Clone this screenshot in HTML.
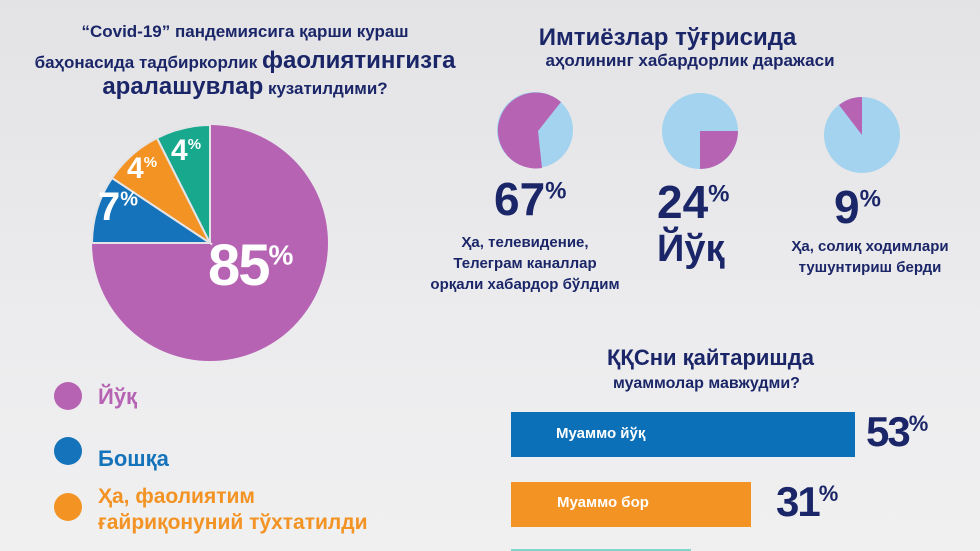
<!DOCTYPE html>
<html><head><meta charset="utf-8"><style>
body{margin:0;width:980px;height:551px;overflow:hidden;background:linear-gradient(#e3e3e5,#ececee 60%,#f0f0f1);font-family:"Liberation Sans","DejaVu Sans",sans-serif;color:#1b2668;position:relative}
.t{position:absolute;font-weight:bold;white-space:nowrap}
.c{text-align:center}
</style></head><body>
<div class="t c" style="left:0;width:490px;top:22px;font-size:17px">“Covid-19” пандемиясига қарши кураш</div>
<div class="t c" style="left:0;width:490px;top:47px;font-size:17px">баҳонасида тадбиркорлик <span style="font-size:24px">фаолиятингизга</span></div>
<div class="t c" style="left:0;width:490px;top:73px;font-size:17px"><span style="font-size:24px">аралашувлар</span> кузатилдими?</div>

<div class="t c" style="left:490px;width:355px;top:24px;font-size:24px">Имтиёзлар тўғрисида</div>
<div class="t c" style="left:490px;width:400px;top:51px;font-size:17px">аҳолининг хабардорлик даражаси</div>

<svg width="980" height="551" style="position:absolute;left:0;top:0">
<path d="M210,243 L210,125 A118,118 0 1 1 92,243 Z" fill="#b663b4"/>
<path d="M210,243 L92,243 A118,118 0 0 1 112,178 Z" fill="#1473ba" stroke="#e4e4e6" stroke-width="2"/>
<path d="M210,243 L112,178 A118,118 0 0 1 157,138 Z" fill="#f39324" stroke="#e4e4e6" stroke-width="2"/>
<path d="M210,243 L157,138 A118,118 0 0 1 210,125 Z" fill="#17a88e" stroke="#e4e4e6" stroke-width="2"/>
<circle cx="535" cy="130" r="38" fill="#a3d3ee"/>
<path d="M535,130 L561,103 A38,38 0 0 0 541,168 Z" fill="none"/>
<path d="M538,131 L561,102 A38,38 0 1 0 542,168 Z" fill="#b663b4"/>
<circle cx="700" cy="131" r="38" fill="#a3d3ee"/>
<path d="M700,131 L738,131 A38,38 0 0 1 700,169 Z" fill="#b663b4"/>
<circle cx="862" cy="135" r="38" fill="#a3d3ee"/>
<path d="M862,135 L862,97 A38,38 0 0 0 839,105 Z" fill="#b663b4"/>
<rect x="511" y="412" width="344" height="45" fill="#0b70b7"/>
<rect x="511" y="482" width="240" height="45" fill="#f39324"/>
<rect x="511" y="549" width="180" height="10" fill="#7fd7cc"/>
<circle cx="68" cy="396" r="14" fill="#b663b4"/>
<circle cx="68" cy="451" r="14" fill="#1473ba"/>
<circle cx="68" cy="507" r="14" fill="#f39324"/>
</svg>

<div class="t" style="left:98px;top:185px;font-size:40px;color:#fff">7<sup style="font-size:20px">%</sup></div>
<div class="t" style="left:127px;top:152px;font-size:30px;color:#fff">4<sup style="font-size:15px">%</sup></div>
<div class="t" style="left:171px;top:134px;font-size:30px;color:#fff">4<sup style="font-size:15px">%</sup></div>
<div class="t" style="left:208px;top:232px;font-size:58px;color:#fff;letter-spacing:-2px">85<sup style="font-size:28px">%</sup></div>

<div class="t" style="left:494px;top:172px;font-size:46px">67<sup style="font-size:24px">%</sup></div>
<div class="t" style="left:657px;top:175px;font-size:46px">24<sup style="font-size:24px">%</sup></div>
<div class="t" style="left:834px;top:180px;font-size:46px">9<sup style="font-size:24px">%</sup></div>
<div class="t c" style="left:400px;width:250px;top:232px;font-size:15px;line-height:21px">Ҳа, телевидение,<br>Телеграм каналлар<br>орқали хабардор бўлдим</div>
<div class="t" style="left:657px;top:228px;font-size:38px">Йўқ</div>
<div class="t c" style="left:760px;width:220px;top:236px;font-size:15px;line-height:21px">Ҳа, солиқ ходимлари<br>тушунтириш берди</div>

<div class="t" style="left:607px;top:345px;font-size:22px">ҚҚСни қайтаришда</div>
<div class="t" style="left:613px;top:375px;font-size:16px">муаммолар мавжудми?</div>
<div class="t" style="left:556px;top:425px;font-size:15px;color:#fff">Муаммо йўқ</div>
<div class="t" style="left:557px;top:494px;font-size:15px;color:#fff">Муаммо бор</div>
<div class="t" style="left:866px;top:408px;font-size:42px;letter-spacing:-2px">53<sup style="font-size:22px">%</sup></div>
<div class="t" style="left:776px;top:478px;font-size:42px;letter-spacing:-2px">31<sup style="font-size:22px">%</sup></div>

<div class="t" style="left:98px;top:384px;font-size:22px;color:#b663b4">Йўқ</div>
<div class="t" style="left:98px;top:446px;font-size:22px;color:#1473ba">Бошқа</div>
<div class="t" style="left:98px;top:484px;font-size:21px;color:#f39324;line-height:26px">Ҳа, фаолиятим<br>ғайриқонуний тўхтатилди</div>
</body></html>
